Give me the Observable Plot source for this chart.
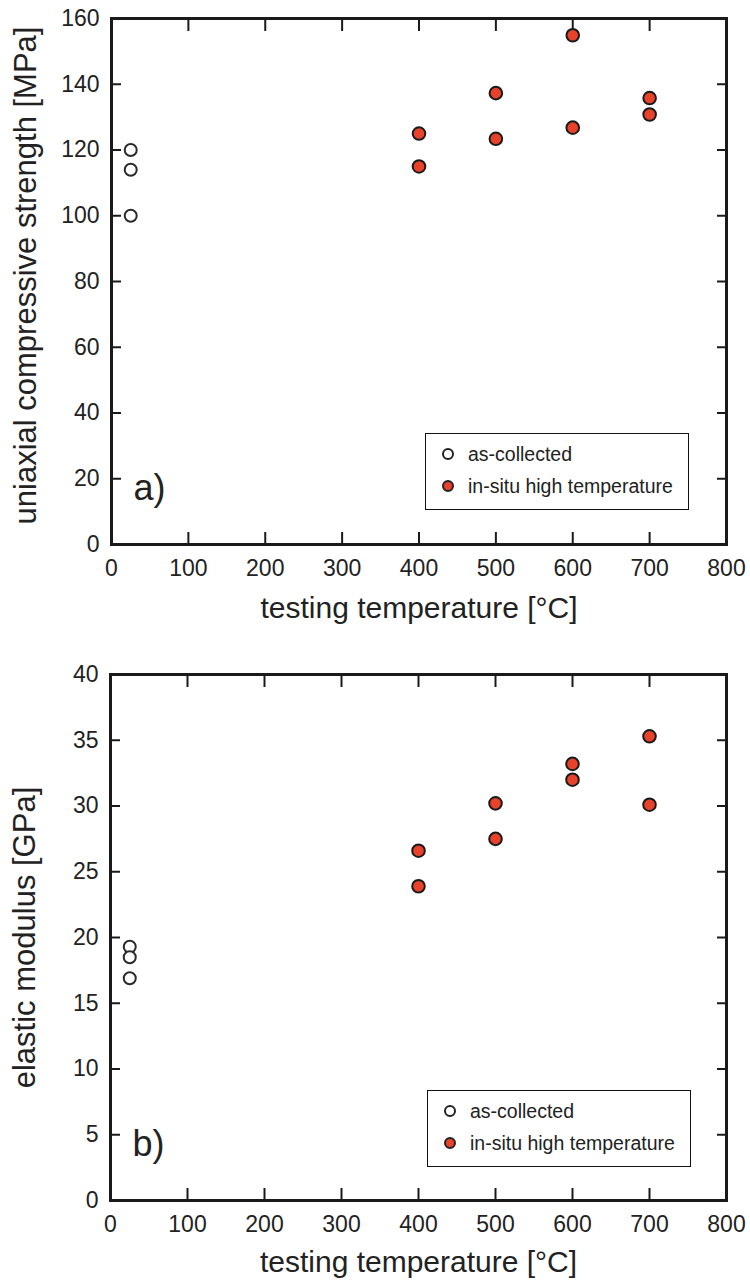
<!DOCTYPE html>
<html>
<head>
<meta charset="utf-8">
<script src="https://cdn.jsdelivr.net/npm/d3@7"></script>
<script src="https://cdn.jsdelivr.net/npm/@observablehq/plot@0.6"></script>
<style>
  body { margin: 0; background: #fff; }
  #wrap { position: relative; width: 750px; height: 1285px; background: #fff; font-family: "Liberation Sans", Arial, sans-serif; }
  #wrap svg { display: block; }
  .legend { position: absolute; box-sizing: border-box; border: 1.5px solid #111; background: #fff; color: #222; font-size: 19.5px; }
  .legend .row { position: absolute; left: 0; height: 22px; line-height: 22px; white-space: nowrap; }
  .legend .sym { position: absolute; box-sizing: border-box; width: 12px; height: 12px; border-radius: 50%; border: 2px solid #222; top: 5px; }
  .legend .lab { position: absolute; top: 0; }
</style>
</head>
<body>
<div id="wrap">
  <div id="pa"></div>
  <div id="pb"></div>
</div>
<script>
// ---- data ----
const xTickLabels = [0, 100, 200, 300, 400, 500, 600, 700, 800];
const xInnerTicks = [100, 200, 300, 400, 500, 600, 700];
const yTicksA = [0, 20, 40, 60, 80, 100, 120, 140, 160];
const yInnerTicksA = [20, 40, 60, 80, 100, 120, 140];
const yTicksB = [0, 5, 10, 15, 20, 25, 30, 35, 40];
const yInnerTicksB = [5, 10, 15, 20, 25, 30, 35];

const tempAsCollected = [25, 25, 25];
const ucsAsCollected = [120, 114, 100];
const emAsCollected = [19.3, 18.5, 16.9];

const tempInSitu = [400, 400, 500, 500, 600, 600, 700, 700];
const ucsInSitu = [125, 115, 137.3, 123.4, 154.9, 126.8, 135.8, 130.8];
const emInSitu = [26.6, 23.9, 30.2, 27.5, 33.2, 32.0, 35.3, 30.1];

const seriesNames = ["as-collected", "in-situ high temperature"];
const xLabel = "testing temperature [°C]";
const yLabelA = "uniaxial compressive strength [MPa]";
const yLabelB = "elastic modulus [GPa]";
const panelTags = ["a)", "b)"];

const RED = "#e8432a";
const INK = "#1a1a1a";
const FONT = "'Liberation Sans', Arial, Helvetica, sans-serif";

function panel({height, marginTop, marginBottom, marginLeft, marginRight, yDomain, yTicks, yInner, asVals, hotVals, yLabel, tag, yLabelDy, xLabelDy}) {
  const asIdx = d3.range(tempAsCollected.length);
  const hotIdx = d3.range(tempInSitu.length);
  return Plot.plot({
    width: 750, height, marginTop, marginBottom, marginLeft, marginRight,
    style: {fontFamily: FONT, fontSize: "23px", color: "#222", background: "#fff", overflow: "visible"},
    x: {domain: [0, 800], axis: null},
    y: {domain: yDomain, axis: null},
    marks: [
      // inward tick marks on all four sides
      Plot.axisX(xInnerTicks, {anchor: "bottom", tickSize: 12, dy: -12, tickFormat: () => "", label: null, stroke: INK, strokeWidth: 2}),
      Plot.axisX(xInnerTicks, {anchor: "top", tickSize: 12, dy: 12, tickFormat: () => "", label: null, stroke: INK, strokeWidth: 2}),
      Plot.axisY(yInner, {anchor: "left", tickSize: 10, dx: 10, tickFormat: () => "", label: null, stroke: INK, strokeWidth: 2}),
      Plot.axisY(yInner, {anchor: "right", tickSize: 10, dx: -10, tickFormat: () => "", label: null, stroke: INK, strokeWidth: 2}),
      // tick labels
      Plot.axisX(xTickLabels, {anchor: "bottom", tickSize: 0, tickPadding: 15, label: null, fontSize: 23, fill: "#222"}),
      Plot.axisY(yTicks, {anchor: "left", tickSize: 0, tickPadding: 12, label: null, fontSize: 23, fill: "#222"}),
      Plot.frame({stroke: INK, strokeWidth: 3}),
      // data
      Plot.dot(asIdx, {x: i => tempAsCollected[i], y: i => asVals[i], r: 6, fill: "#fff", stroke: "#2a2a2a", strokeWidth: 2}),
      Plot.dot(hotIdx, {x: i => tempInSitu[i], y: i => hotVals[i], r: 6.3, fill: RED, stroke: INK, strokeWidth: 2}),
      // labels
      Plot.text([xLabel], {frameAnchor: "bottom", dy: xLabelDy, fontSize: 30, fill: "#222"}),
      Plot.text([yLabel], {frameAnchor: "left", textAnchor: "middle", dx: -85, dy: yLabelDy, rotate: -90, fontSize: 31, fill: "#222"}),
      Plot.text([tag], {frameAnchor: "bottom-left", dx: 22, dy: -45, textAnchor: "start", fontSize: 36, fill: "#222"})
    ]
  });
}

const a = panel({height: 640, marginTop: 18, marginBottom: 96, marginLeft: 111, marginRight: 24,
  yDomain: [0, 160], yTicks: yTicksA, yInner: yInnerTicksA, asVals: ucsAsCollected, hotVals: ucsInSitu,
  yLabel: yLabelA, tag: panelTags[0], yLabelDy: -6, xLabelDy: 73});
const b = panel({height: 645, marginTop: 34, marginBottom: 85, marginLeft: 110, marginRight: 24,
  yDomain: [0, 40], yTicks: yTicksB, yInner: yInnerTicksB, asVals: emAsCollected, hotVals: emInSitu,
  yLabel: yLabelB, tag: panelTags[1], yLabelDy: 0, xLabelDy: 71});
document.getElementById("pa").appendChild(a);
document.getElementById("pb").appendChild(b);

// legends (HTML overlays)
function legend(left, top) {
  const box = document.createElement("div");
  box.className = "legend";
  Object.assign(box.style, {left: left + "px", top: top + "px", width: "264px", height: "77px"});
  const fills = ["#fff", RED];
  const rowsY = [20, 52];
  seriesNames.forEach((name, k) => {
    const row = document.createElement("div");
    row.className = "row";
    row.style.top = (rowsY[k] - 11) + "px";
    const sym = document.createElement("span");
    sym.className = "sym";
    sym.style.left = (22 - 6) + "px";
    sym.style.background = fills[k];
    const lab = document.createElement("span");
    lab.className = "lab";
    lab.style.left = "42px";
    lab.textContent = name;
    row.appendChild(sym); row.appendChild(lab);
    box.appendChild(row);
  });
  document.getElementById("wrap").appendChild(box);
}
legend(425, 433);
legend(427, 1090);
</script>
</body>
</html>
